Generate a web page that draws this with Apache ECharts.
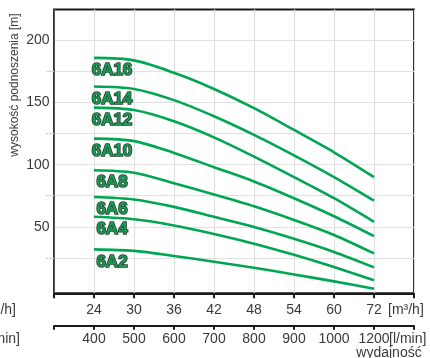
<!DOCTYPE html>
<html>
<head>
<meta charset="utf-8">
<script src="https://cdn.jsdelivr.net/npm/echarts@6/dist/echarts.min.js"></script>
<style>
  html, body { margin: 0; padding: 0; background: #fff; }
  #chart { width: 430px; height: 358px; }
</style>
</head>
<body>
<div id="chart"></div>
<script>
// Flow rate ticks (two scales for the same flow) and head tick values
const flowM3h = [24, 30, 36, 42, 48, 54, 60, 72];
const flowLmin = [400, 500, 600, 700, 800, 900, 1000, 1200];
const headLabels = [50, 100, 150, 200];
const headGrid = [25, 50, 75, 100, 125, 150, 175, 200];
const headMinorTicks = [25, 75, 125, 175];

// Pump curves: head [m] at each flow point
const pumpNames = ['6A16', '6A14', '6A12', '6A10', '6A8', '6A6', '6A4', '6A2'];
const head6A16 = [186, 184, 174, 161, 145.5, 128, 110, 90];
const head6A14 = [163, 161, 152, 139, 124, 107.5, 90, 71];
const head6A12 = [146, 144, 135, 122, 106.5, 90, 73, 54];
const head6A10 = [121, 119, 109.5, 98, 86.5, 73, 58.5, 42.5];
const head6A8  = [95.5, 93.5, 85, 76, 66.5, 55.5, 43.4, 28.5];
const head6A6  = [74, 72, 66, 58, 49.8, 40.3, 29.7, 17.3];
const head6A4  = [58, 56, 51, 44.2, 36.4, 27.4, 17.5, 7];
const head6A2  = [31.8, 30.6, 26.5, 21.8, 17, 11.6, 6, 0];
const pumpHeads = [head6A16, head6A14, head6A12, head6A10, head6A8, head6A6, head6A4, head6A2];

// Axis categories: an unlabeled slot at each end of the flow range
const catM3h = [''].concat(flowM3h.map(String), [' ']);
const catLmin = [''].concat(flowLmin.map(String), [' ']);

const textColor = '#3a3a3a';
const lineGreen = '#00a651';
const font = 'Liberation Sans, Arial, sans-serif';

const series = pumpNames.map(function (name, i) {
  const vals = pumpHeads[i];
  const data = [null];
  vals.forEach(function (v, j) {
    if (j === 0) {
      data.push({
        value: v,
        label: {
          show: true,
          formatter: name,
          position: 'inside',
          offset: [18, 12.5],
          fontFamily: font,
          fontSize: 17,
          fontWeight: 'bold',
          color: '#199a52',
          textBorderColor: '#1f3b2b',
          textBorderWidth: 1.6
        }
      });
    } else {
      data.push(v);
    }
  });
  data.push(null);
  return {
    name: name,
    type: 'line',
    xAxisIndex: 0,
    yAxisIndex: 0,
    data: data,
    smooth: 0.3,
    showSymbol: true,
    symbol: 'circle',
    symbolSize: 0,
    lineStyle: { color: lineGreen, width: 2.6 },
    itemStyle: { color: lineGreen },
    emphasis: { disabled: true },
    z: 3
  };
});

const chart = echarts.init(document.getElementById('chart'), null, { renderer: 'canvas' });
chart.setOption({
  animation: false,
  backgroundColor: '#ffffff',
  grid: {
    left: 54, right: 16, top: 9.5, bottom: 64.7,
    show: true, borderColor: '#1a1a1a', borderWidth: 2, backgroundColor: 'transparent'
  },
  xAxis: [
    {
      type: 'category',
      data: catM3h,
      boundaryGap: false,
      position: 'bottom',
      axisLine: { onZero: false, lineStyle: { color: '#1a1a1a', width: 2 } },
      axisTick: { show: true, interval: 0, length: 5, lineStyle: { color: '#1a1a1a', width: 2 } },
      axisLabel: { interval: 0, margin: 10, color: textColor, fontFamily: font, fontSize: 14 },
      splitLine: { show: true, interval: 0, lineStyle: { color: '#e0e0e0', width: 1.2 } }
    },
    {
      type: 'category',
      data: catLmin,
      boundaryGap: false,
      position: 'bottom',
      offset: 32.4,
      axisLine: { onZero: false, lineStyle: { color: '#1a1a1a', width: 2 } },
      axisTick: { show: true, interval: 0, length: 4, lineStyle: { color: '#1a1a1a', width: 2 } },
      axisLabel: { interval: 0, margin: 6.5, color: textColor, fontFamily: font, fontSize: 14 },
      splitLine: { show: false }
    }
  ],
  yAxis: [
    {
      type: 'value',
      min: -3.6,
      max: 225,
      axisLine: { show: true, onZero: false, lineStyle: { color: '#333', width: 1.6 } },
      axisTick: { show: false, customValues: headGrid },
      axisLabel: { customValues: headLabels, margin: 4.5, color: textColor, fontFamily: font, fontSize: 14 },
      splitLine: { show: true, lineStyle: { color: '#e0e0e0', width: 1.2 } }
    },
    {
      type: 'value',
      min: -3.6,
      max: 225,
      position: 'left',
      axisLine: { show: false },
      axisTick: { show: true, customValues: headMinorTicks, length: 8, lineStyle: { color: '#d4d4d4', width: 1.2 } },
      axisLabel: { show: false },
      splitLine: { show: false }
    }
  ],
  graphic: [
    {
      type: 'text', x: 15, y: 85, rotation: Math.PI / 2,
      style: { text: 'wysokość podnoszenia [m]', fill: textColor, font: '12px ' + font, align: 'center', verticalAlign: 'middle' }
    },
    {
      type: 'text', x: 388, y: 310,
      style: { text: '[m³/h]', fill: textColor, font: '14px ' + font, align: 'left', verticalAlign: 'middle' }
    },
    {
      type: 'text', x: 389, y: 339.5,
      style: { text: '[l/min]', fill: textColor, font: '14px ' + font, align: 'left', verticalAlign: 'middle' }
    },
    {
      type: 'text', x: 389, y: 353,
      style: { text: 'wydajność', fill: textColor, font: '14px ' + font, align: 'center', verticalAlign: 'middle' }
    },
    {
      type: 'text', x: 16, y: 310,
      style: { text: '[m³/h]', fill: textColor, font: '14px ' + font, align: 'right', verticalAlign: 'middle' }
    },
    {
      type: 'text', x: 20, y: 339.5,
      style: { text: '[l/min]', fill: textColor, font: '14px ' + font, align: 'right', verticalAlign: 'middle' }
    }
  ],
  series: series
});
</script>
</body>
</html>
